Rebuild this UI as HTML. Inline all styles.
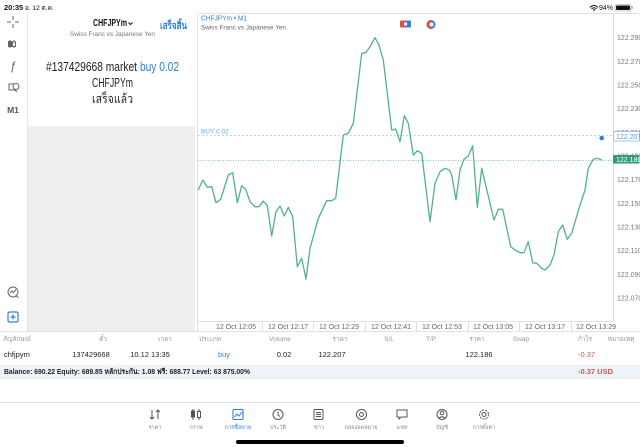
<!DOCTYPE html>
<html><head><meta charset="utf-8">
<style>
html,body{margin:0;padding:0;background:#fff;}
svg{display:block;}
text{font-family:"Liberation Sans","DejaVu Sans",sans-serif;}
</style></head>
<body>
<svg width="640" height="447" viewBox="0 0 640 447" xmlns="http://www.w3.org/2000/svg">
<rect width="640" height="447" fill="#fff"/>

<!-- status bar -->
<text x="4" y="10" font-size="7.5" font-weight="bold" fill="#111">20:35</text>
<text x="25" y="10" font-size="6.5" fill="#111">อ. 12 ต.ค.</text>
<path d="M590 7.5 q4 -4 8 0 M591.5 9 q2.5 -2.5 5 0" stroke="#111" stroke-width="1" fill="none"/>
<circle cx="594" cy="10" r="0.9" fill="#111"/>
<text x="599" y="10" font-size="7" fill="#111">94%</text>
<rect x="615" y="4.5" width="16" height="6.5" rx="1.5" fill="none" stroke="#999" stroke-width="0.6"/>
<rect x="616" y="5.5" width="14" height="4.5" rx="1" fill="#111"/>
<rect x="631.5" y="6.5" width="1.2" height="2.5" fill="#999"/>

<!-- top separator -->
<line x1="198" y1="13.5" x2="640" y2="13.5" stroke="#e2e2e2" stroke-width="1"/>

<!-- left toolbar icons -->
<g stroke="#666" stroke-width="1" fill="none">
  <path d="M7 22h4M15 22h4M13 16v4M13 24v4"/>
  <path d="M10 40v8M14 40v8" />
  <rect x="8.5" y="41.5" width="3" height="5" fill="#666"/>
  <rect x="12.5" y="42" width="3" height="4.5" fill="#fff"/>
  <rect x="9" y="84" width="6" height="6"/>
  <circle cx="16" cy="86.5" r="3" fill="#fff"/>
  <path d="M14 89l3 3"/>
  <circle cx="13" cy="292" r="5"/>
  <path d="M10 293l2 -2 1.5 1.5 2.5 -3M16.5 296l2 2"/>
</g>
<text x="13" y="70" font-size="12" font-style="italic" font-family="Liberation Serif,serif" fill="#666" text-anchor="middle">ƒ</text>
<text x="13" y="113" font-size="8.5" font-weight="bold" fill="#555" text-anchor="middle">M1</text>
<rect x="8" y="312" width="10" height="10" rx="1.5" fill="none" stroke="#2f7fe0" stroke-width="1.2"/>
<path d="M13 314.5v5M10.5 317h5" stroke="#2f7fe0" stroke-width="1.2"/>

<!-- popup panel -->
<line x1="27.5" y1="14" x2="27.5" y2="331" stroke="#e6e6e6"/>
<rect x="28" y="126" width="167" height="205" fill="#efefef"/>
<line x1="197.5" y1="14" x2="197.5" y2="331" stroke="#e2e2e2"/>
<text x="93" y="26" font-size="10" font-weight="bold" fill="#111" textLength="34" lengthAdjust="spacingAndGlyphs">CHFJPYm</text>
<path d="M128.5 22.5l2 2 2 -2" stroke="#111" stroke-width="1" fill="none"/>
<text x="160" y="29" font-size="10" font-weight="bold" fill="#2f7fe0" textLength="27" lengthAdjust="spacingAndGlyphs">เสร็จสิ้น</text>
<text x="70" y="36" font-size="6.5" fill="#777" textLength="85" lengthAdjust="spacingAndGlyphs">Swiss Franc vs Japanese Yen</text>
<text x="46" y="71" font-size="12.5" fill="#222" textLength="91" lengthAdjust="spacingAndGlyphs">#137429668 market</text>
<text x="140" y="71" font-size="12.5" fill="#2f7fe0" textLength="39" lengthAdjust="spacingAndGlyphs">buy 0.02</text>
<text x="92" y="87" font-size="12.5" fill="#222" textLength="41" lengthAdjust="spacingAndGlyphs">CHFJPYm</text>
<text x="92" y="103" font-size="12.5" fill="#222" textLength="41" lengthAdjust="spacingAndGlyphs">เสร็จแล้ว</text>

<!-- chart header -->
<text x="201" y="20.5" font-size="7" fill="#2f7fe0" textLength="46" lengthAdjust="spacingAndGlyphs">CHFJPYm • M1</text>
<text x="201" y="29.5" font-size="6.5" fill="#666" textLength="85" lengthAdjust="spacingAndGlyphs">Swiss Franc vs Japanese Yen</text>
<rect x="400" y="20.5" width="11" height="7" rx="1" fill="#d9534f"/>
<rect x="405.5" y="20.5" width="5.5" height="7" fill="#3b7fd9"/>
<circle cx="405.5" cy="24" r="1.6" fill="#fff"/>
<circle cx="431" cy="24.5" r="4.5" fill="#3b7fd9"/>
<path d="M431 20a4.5 4.5 0 0 0 0 9z" fill="#d9534f"/>
<circle cx="431.5" cy="24.5" r="2" fill="#fff"/>

<!-- axes -->
<line x1="613.5" y1="13" x2="613.5" y2="321" stroke="#dcdcdc"/>
<line x1="198" y1="321.5" x2="613" y2="321.5" stroke="#e2e2e2"/>
<line x1="0" y1="331.5" x2="640" y2="331.5" stroke="#e2e2e2"/>

<!-- price labels -->
<g font-size="7" fill="#777">
<text x="617" y="40.2">122.290</text>
<text x="617" y="63.9">122.270</text>
<text x="617" y="87.5">122.250</text>
<text x="617" y="111.2">122.230</text>
<text x="617" y="134.8">122.210</text>
<text x="617" y="158.5">122.190</text>
<text x="617" y="182.2">122.170</text>
<text x="617" y="205.8">122.150</text>
<text x="617" y="229.5">122.130</text>
<text x="617" y="253.1">122.110</text>
<text x="617" y="276.8">122.090</text>
<text x="617" y="300.5">122.070</text>
</g>

<!-- time labels -->
<g font-size="7" fill="#666" text-anchor="middle">
<text x="236" y="329">12 Oct 12:05</text>
<text x="288" y="329">12 Oct 12:17</text>
<text x="339" y="329">12 Oct 12:29</text>
<text x="391" y="329">12 Oct 12:41</text>
<text x="442" y="329">12 Oct 12:53</text>
<text x="493" y="329">12 Oct 13:05</text>
<text x="545" y="329">12 Oct 13:17</text>
<text x="596" y="329">12 Oct 13:29</text>
</g>
<g stroke="#e0e0e0">
<line x1="262.5" y1="322" x2="262.5" y2="331"/>
<line x1="313.5" y1="322" x2="313.5" y2="331"/>
<line x1="365.5" y1="322" x2="365.5" y2="331"/>
<line x1="416.5" y1="322" x2="416.5" y2="331"/>
<line x1="468.5" y1="322" x2="468.5" y2="331"/>
<line x1="519.5" y1="322" x2="519.5" y2="331"/>
<line x1="571.5" y1="322" x2="571.5" y2="331"/>
</g>

<!-- buy line & current price line -->
<line x1="198" y1="135.5" x2="613" y2="135.5" stroke="#b3c9de" stroke-width="0.8" stroke-dasharray="2,2"/>
<line x1="198" y1="160.5" x2="613" y2="160.5" stroke="#5cb89a" stroke-width="0.8" stroke-dasharray="1,1.5"/>
<text x="201" y="133.5" font-size="6.5" fill="#6aa7e0">BUY 0.02</text>

<!-- price series -->
<polyline fill="none" stroke="#52b28c" stroke-width="1.3" stroke-linejoin="round" points="
198.3,190 202.7,180 207.3,187.3 211.7,186.7 216,202.7 220.7,199.3 228.3,175 232.7,172.7 237.3,202.7 241.7,185.7 245.7,189.3 250,201.7 255,206.7 259,206.7 263.3,201 267.3,205.7 271.7,236 276,211.7 280,206 284.3,216 288.3,207.3 292.7,216.7 297.3,266.7 301.7,258.3 306,279 310,248.3 318.3,218.3 326.7,200.7 331.7,200.7 335.7,198.3 343.3,135 348.3,133.3 353.3,123.3 361.7,53.3 365.7,52.7 370,46.7 375,37.7 379,45 383.3,60 391.7,130 395.7,129 400,141.7 404.3,115.7 408.3,123.3 413.3,155 417.3,150.7 421.7,153.3 430,221.7 435,183.3 440,171.7 445,168.3 449.3,170 451.7,175 456,200 460,170 464,159.3 468.3,156 472.7,145.7 477.3,207.3 481.7,168.3 494,220 498.3,209.3 502.7,209.3 510.7,246.7 515,250 520,252.7 524,252.7 528.3,241.7 532.7,262.7 536.7,263.3 541.7,268.3 545,270 550,265 554,255 558.3,231.7 562.7,225 567.3,239.3 571.7,233.3 580,205 585,190 588.3,168.3 593.3,159.3 597.3,158.3 601.7,160"/>

<circle cx="601.7" cy="138" r="2.3" fill="#2f7fe0"/>

<!-- price tags -->
<rect x="613.5" y="131.5" width="26" height="9.5" fill="#fff" stroke="#8ab8ea" stroke-width="0.8"/>
<text x="616" y="139" font-size="7" fill="#5b9be0">122.207</text>
<rect x="613" y="155" width="26.5" height="8.5" fill="#2e9e7a"/>
<text x="616" y="162" font-size="7" fill="#fff">122.186</text>

<!-- table header -->
<g font-size="6.5" fill="#999">
<text x="3" y="341">สัญลักษณ์</text>
<text x="103" y="341" text-anchor="middle">ตั๋ว</text>
<text x="165" y="341" text-anchor="middle">เวลา</text>
<text x="210" y="341" text-anchor="middle">ประเภท</text>
<text x="280" y="341" text-anchor="middle">Volume</text>
<text x="340" y="341" text-anchor="middle">ราคา</text>
<text x="389" y="341" text-anchor="middle">S/L</text>
<text x="431" y="341" text-anchor="middle">T/P</text>
<text x="477" y="341" text-anchor="middle">ราคา</text>
<text x="521" y="341" text-anchor="middle">Swap</text>
<text x="585" y="341" text-anchor="middle">กำไร</text>
<text x="621" y="341" text-anchor="middle">หมายเหตุ</text>
</g>
<!-- table row -->
<g font-size="7.5" fill="#222">
<text x="4" y="357">chfjpym</text>
<text x="91" y="357" text-anchor="middle">137429668</text>
<text x="150" y="357" text-anchor="middle">10.12 13:35</text>
<text x="224" y="357" text-anchor="middle" fill="#2f7fe0">buy</text>
<text x="284" y="357" text-anchor="middle">0.02</text>
<text x="332" y="357" text-anchor="middle">122.207</text>
<text x="479" y="357" text-anchor="middle">122.186</text>
<text x="578" y="357" fill="#d9534f">-0.37</text>
</g>
<!-- balance row -->
<rect x="0" y="365" width="640" height="13" fill="#eef3f8"/>
<line x1="0" y1="378.5" x2="640" y2="378.5" stroke="#e6e6e6"/>
<text x="4" y="374" font-size="7.5" font-weight="bold" fill="#222" textLength="246" lengthAdjust="spacingAndGlyphs">Balance: 690.22 Equity: 689.85 หลักประกัน: 1.08 ฟรี: 688.77 Level: 63 875.00%</text>
<text x="578" y="374" font-size="7.5" font-weight="bold" fill="#d9534f">-0.37  USD</text>

<!-- tab bar -->
<line x1="0" y1="402.5" x2="640" y2="402.5" stroke="#dedede"/>
<g stroke="#555" stroke-width="1" fill="none">
  <path d="M152 410v9M150 417l2 2 2 -2M158 419v-9M156 412l2 -2 2 2"/>
  <path d="M193 409v11M199 409v11"/>
  <rect x="191.5" y="411" width="3" height="6" fill="#555"/>
  <rect x="197.5" y="411.5" width="3" height="6" fill="#fff"/>
  <circle cx="278" cy="414.5" r="5"/><path d="M278 411.5v3.5l2 1.5"/>
  <rect x="314" y="409.5" width="9" height="10" rx="1"/><path d="M316 412.5h5M316 414.5h5M316 416.5h5"/>
  <circle cx="361.5" cy="414.5" r="5"/><circle cx="361.5" cy="414.5" r="2"/>
  <path d="M397 410h10v7h-6l-2 2v-2h-2z"/>
  <circle cx="442" cy="414.5" r="5"/><circle cx="442" cy="413" r="1.8"/><path d="M438.8 418.3q3.2 -3 6.4 0"/>
  <circle cx="484" cy="414.5" r="2"/><circle cx="484" cy="414.5" r="4.5" stroke-dasharray="2,1.2"/>
</g>
<rect x="233" y="409.5" width="10" height="10" rx="1" fill="none" stroke="#2f7fe0" stroke-width="1.1"/>
<path d="M234.5 417l2.5 -3 2 2 3 -4" fill="none" stroke="#2f7fe0" stroke-width="1"/>
<g font-size="5.5" fill="#888" text-anchor="middle">
<text x="155" y="429">ราคา</text>
<text x="196" y="429">กราฟ</text>
<text x="238" y="429" fill="#2f7fe0">การซื้อขาย</text>
<text x="278" y="429">ประวัติ</text>
<text x="319" y="429">ข่าว</text>
<text x="361" y="429">กล่องจดหมาย</text>
<text x="402" y="429">แชท</text>
<text x="442" y="429">บัญชี</text>
<text x="484" y="429">การตั้งค่า</text>
</g>
<rect x="236" y="440" width="168" height="4" rx="2" fill="#000"/>
</svg>
</body></html>
